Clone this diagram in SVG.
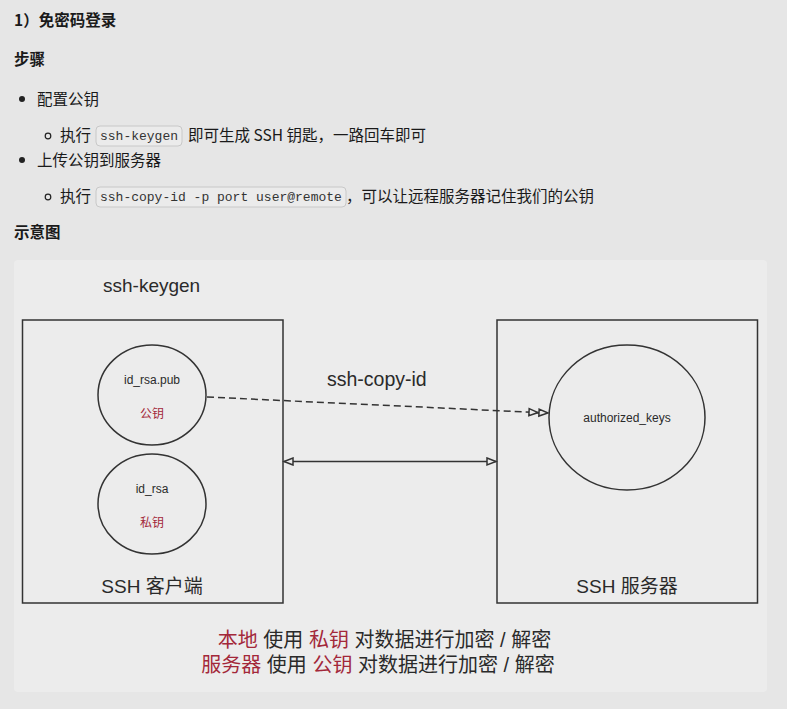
<svg xmlns="http://www.w3.org/2000/svg" width="787" height="709" viewBox="0 0 787 709">
<style>
.doc{font-family:"Noto Sans CJK SC","Liberation Sans",sans-serif;fill:#1a1a1a;font-size:15.5px}
.b{font-weight:bold}
.code{font-family:"Liberation Mono","DejaVu Sans Mono",monospace;font-size:13px;fill:#333}
.cbox{fill:#ebebeb;stroke:#c8c8c8;stroke-width:1}
.dg{font-family:"Liberation Sans","Noto Sans CJK SC",sans-serif;fill:#2a2a2a}
.box{fill:none;stroke:#333;stroke-width:1.5}
.red{fill:#a3283a}
.ln{stroke:#333;stroke-width:1.5;fill:none}
</style>
<defs>
<marker id="open" markerWidth="12" markerHeight="10" refX="10" refY="5" orient="auto-start-reverse" markerUnits="userSpaceOnUse">
<path d="M1,1.5 L10,5 L1,8.5 Z" fill="#ececec" stroke="#333" stroke-width="1.5"/>
</marker>
<marker id="open2" markerWidth="22" markerHeight="10" refX="20" refY="5" orient="auto" markerUnits="userSpaceOnUse">
<path d="M1,1.5 L10,5 L1,8.5 Z M11,1.5 L20,5 L11,8.5 Z" fill="#ececec" stroke="#333" stroke-width="1.5"/>
</marker>
</defs>
<rect width="787" height="709" fill="#e6e6e6"/>
<g id="doc">
<text class="doc b" x="14" y="26" font-size="17">1）免密码登录</text>
<text class="doc b" x="14" y="65" font-size="13">步骤</text>
<circle cx="22" cy="99" r="3" fill="#222"/>
<text class="doc" x="37" y="105">配置公钥</text>
<circle cx="48" cy="136" r="2.8" fill="none" stroke="#222" stroke-width="1.2"/>
<text class="doc" x="60" y="141">执行</text>
<rect class="cbox" x="96" y="126" width="86" height="20" rx="4"/>
<text class="code" x="100" y="140">ssh-keygen</text>
<text class="doc" x="188" y="141">即可生成 SSH 钥匙，一路回车即可</text>
<circle cx="22" cy="160" r="3" fill="#222"/>
<text class="doc" x="37" y="166">上传公钥到服务器</text>
<circle cx="48" cy="197" r="2.8" fill="none" stroke="#222" stroke-width="1.2"/>
<text class="doc" x="60" y="202">执行</text>
<rect class="cbox" x="96" y="187" width="250" height="20" rx="4"/>
<text class="code" x="100" y="201">ssh-copy-id -p port user@remote</text>
<text class="doc" x="346" y="202" font-size="16">，可以让远程服务器记住我们的公钥</text>
<text class="doc b" x="14" y="238" font-size="13">示意图</text>
</g>
<rect x="14" y="260" width="753" height="432" rx="4" fill="#ececec"/>
<text class="dg" x="103" y="292" font-size="19">ssh-keygen</text>
<g id="client">
<rect class="box" x="22.5" y="320" width="260.5" height="283"/>
<text class="dg" x="152" y="593" font-size="19" text-anchor="middle">SSH 客户端</text>
</g>
<g id="pub">
<ellipse class="box" cx="152" cy="395" rx="54" ry="50"/>
<text class="dg" x="152" y="384" font-size="12" text-anchor="middle">id_rsa.pub</text>
<text class="dg red" x="152" y="418" font-size="12" text-anchor="middle">公钥</text>
</g>
<g id="priv">
<ellipse class="box" cx="152" cy="504" rx="54" ry="50"/>
<text class="dg" x="152" y="493" font-size="12" text-anchor="middle">id_rsa</text>
<text class="dg red" x="152" y="527" font-size="12" text-anchor="middle">私钥</text>
</g>
<g id="server">
<rect class="box" x="497" y="320" width="260.5" height="283"/>
<text class="dg" x="627" y="593" font-size="19" text-anchor="middle">SSH 服务器</text>
</g>
<g id="auth">
<ellipse class="box" cx="627" cy="417.5" rx="78" ry="72.5"/>
<text class="dg" x="627" y="422" font-size="12" text-anchor="middle">authorized_keys</text>
</g>
<g id="connectors">
<line class="ln" x1="207" y1="397" x2="548" y2="413" stroke-dasharray="7,4" marker-end="url(#open2)"/>
<line class="ln" x1="284" y1="461.5" x2="496" y2="461.5" marker-start="url(#open)" marker-end="url(#open)"/>
<text class="dg" x="327" y="386" font-size="19.5">ssh-copy-id</text>
</g>
<g id="notes">
<text class="dg" x="384.5" y="647" text-anchor="middle" font-size="20"><tspan class="red">本地</tspan> 使用 <tspan class="red">私钥</tspan> 对数据进行加密 / 解密</text>
<text class="dg" x="378" y="672" text-anchor="middle" font-size="20"><tspan class="red">服务器</tspan> 使用 <tspan class="red">公钥</tspan> 对数据进行加密 / 解密</text>
</g>
</svg>
